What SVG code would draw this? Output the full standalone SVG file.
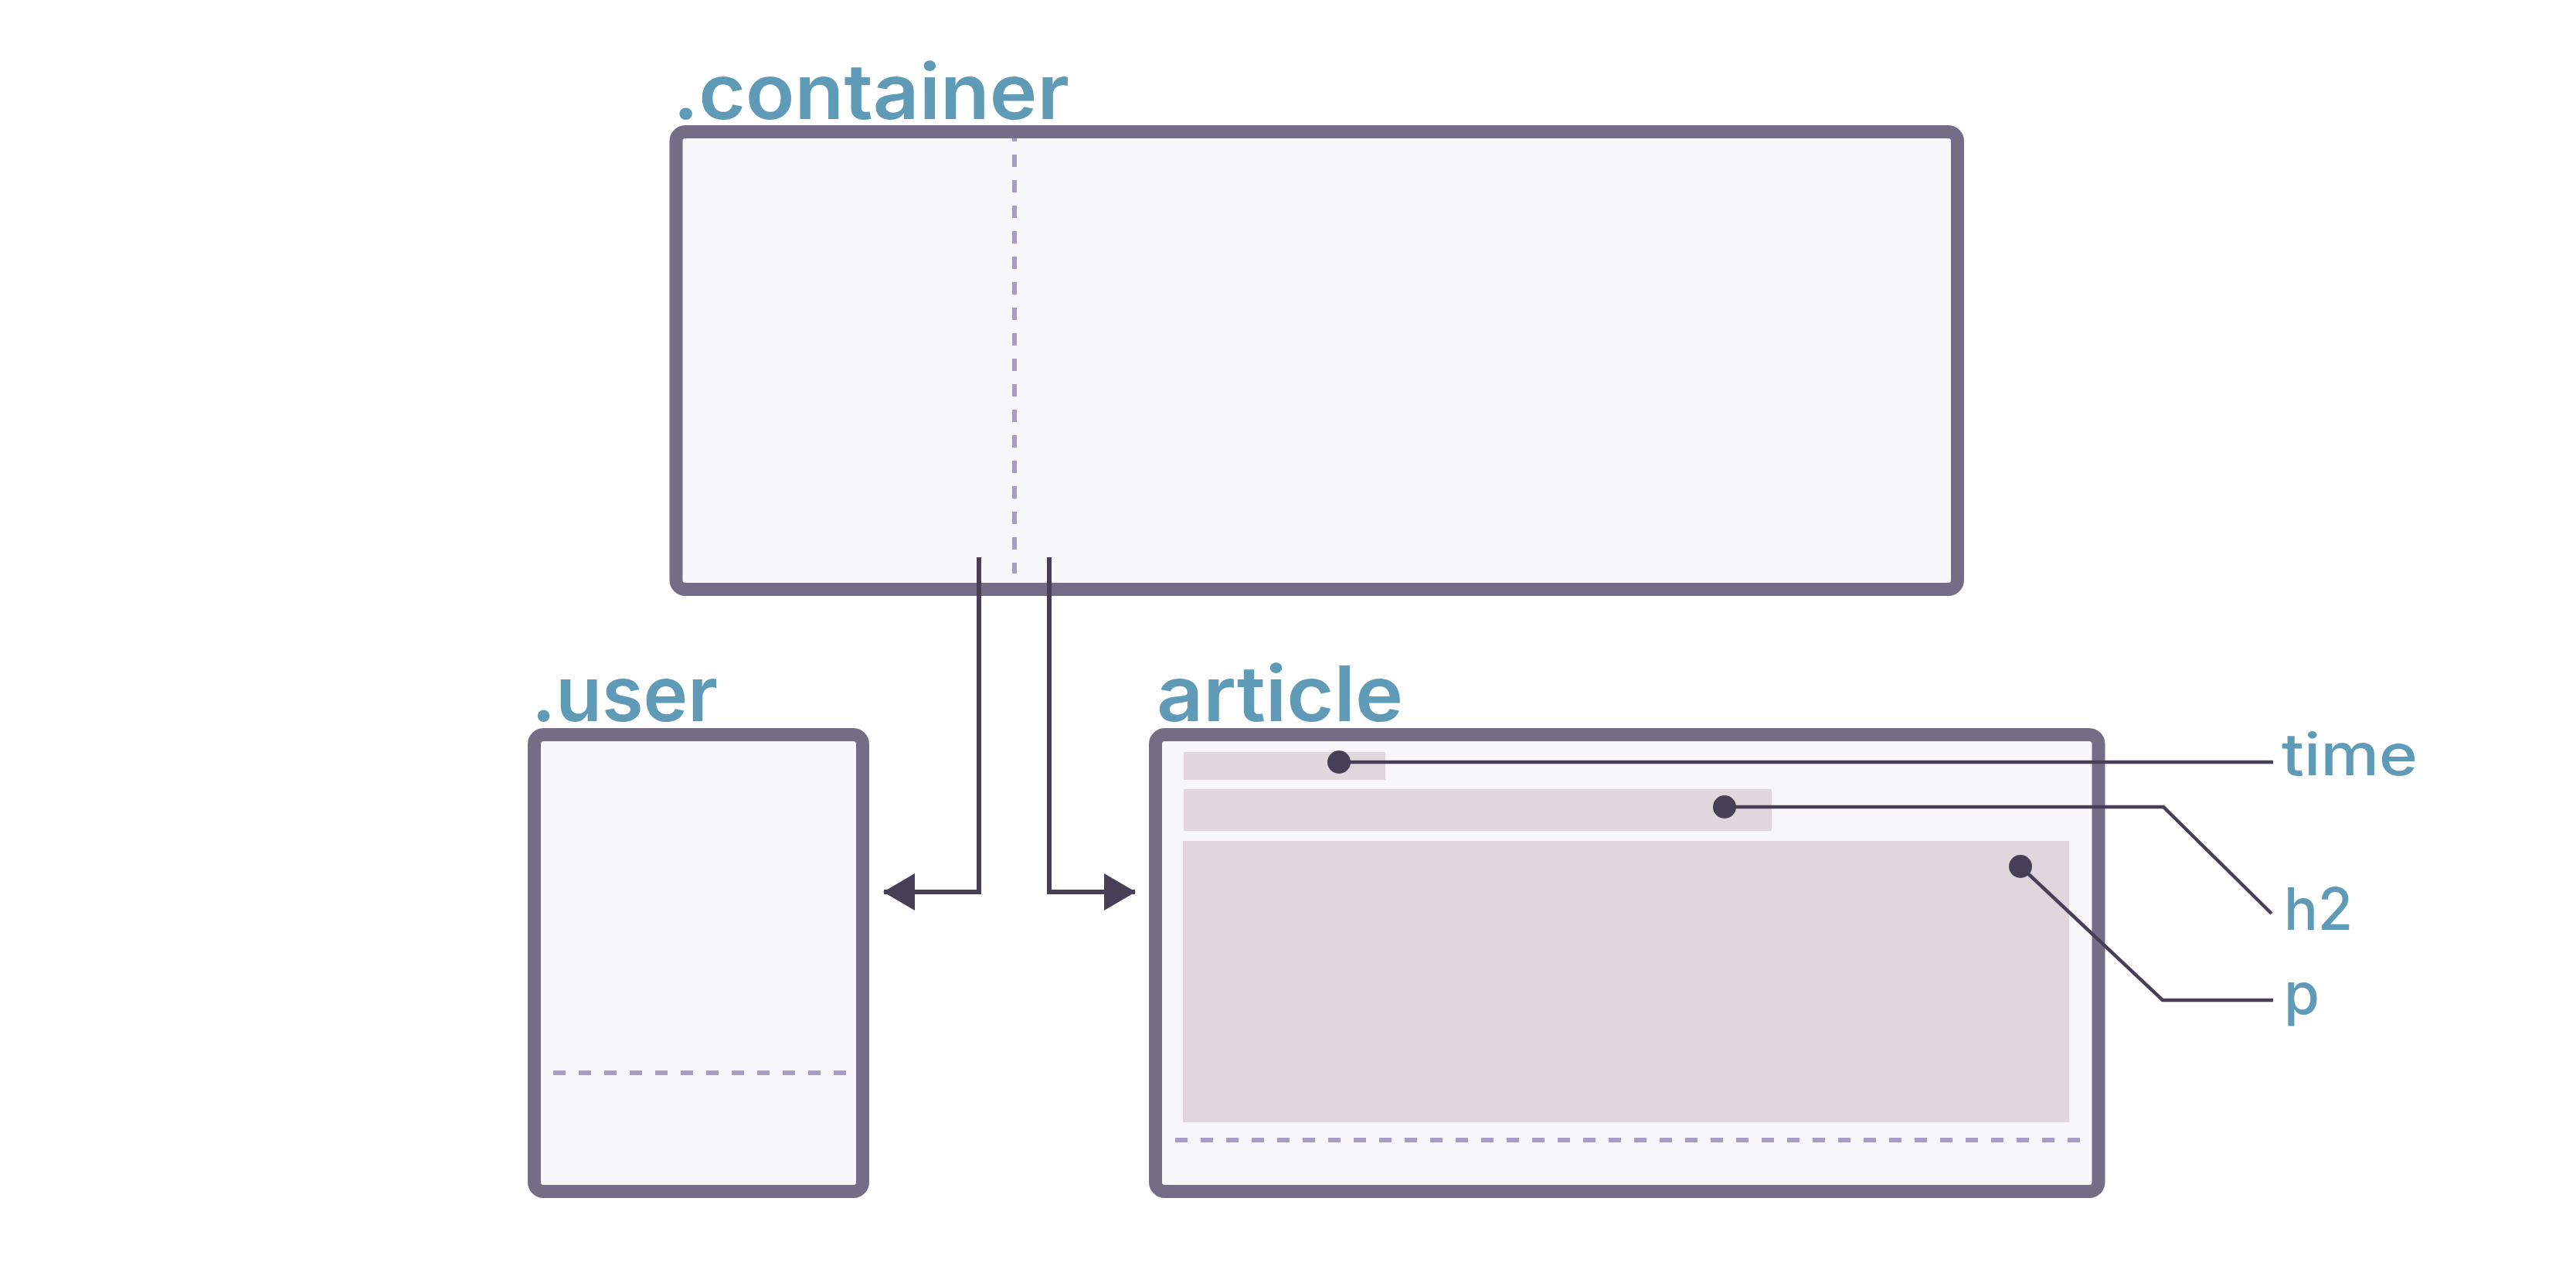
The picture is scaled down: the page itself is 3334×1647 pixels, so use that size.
<svg xmlns="http://www.w3.org/2000/svg" width="3334" height="1647" viewBox="0 0 3334 1647">
<defs>
<style>
.box{fill:#f7f7f9;stroke:#736e85;stroke-width:17}
.dash{stroke:#a89bc4;stroke-width:6;stroke-dasharray:16 17;fill:none}
.blk{fill:#e0d7dd}
.title{font-family:Inter,"Open Sans",sans-serif;font-weight:600;font-size:99px;fill:#5f9bb7}
.lbl{font-family:Inter,"Open Sans",sans-serif;font-weight:500;font-size:75px;fill:#5f9bb7}
.conn{stroke:#463f57;stroke-width:6;fill:none}
.call{stroke:#463f57;stroke-width:4.5;fill:none}
.dot{fill:#463f57}
</style>
<marker id="arr" markerUnits="userSpaceOnUse" markerWidth="42" markerHeight="48" refX="40" refY="24" orient="auto">
<path d="M0,0 L41,24 L0,48 Z" fill="#463f57"/>
</marker>
</defs>
<rect width="3334" height="1647" fill="#ffffff"/>
<g id="container">
<rect class="box" x="875" y="170.5" width="1658.5" height="592" rx="12"/>
<line class="dash" x1="1313" y1="179" x2="1313" y2="742" stroke-dashoffset="12"/>
<text class="title" x="871" y="154" textLength="513" lengthAdjust="spacingAndGlyphs">.container</text>
</g>
<g id="user">
<rect class="box" x="691.5" y="950.5" width="425" height="591" rx="12"/>
<line class="dash" x1="716" y1="1388" x2="1108" y2="1388"/>
<text class="title" x="688" y="933" textLength="241" lengthAdjust="spacingAndGlyphs">.user</text>
</g>
<g id="article">
<rect class="box" x="1495.5" y="950.5" width="1220.5" height="591" rx="12"/>
<rect class="blk" x="1532" y="973" width="261" height="36"/>
<rect class="blk" x="1532" y="1021" width="761" height="54"/>
<rect class="blk" x="1531" y="1088" width="1147" height="364"/>
<line class="dash" x1="1521" y1="1475" x2="2694" y2="1475"/>
<text class="title" x="1497" y="933" textLength="319" lengthAdjust="spacingAndGlyphs">article</text>
</g>
<g id="connectors">
<path class="conn" d="M1267,721 V1154 H1144" marker-end="url(#arr)"/>
<path class="conn" d="M1358,721 V1154 H1469" marker-end="url(#arr)"/>
<path class="call" d="M1733,986 H2942"/>
<path class="call" d="M2232,1044 H2800 L2940,1182"/>
<path class="call" d="M2615,1121 L2799,1294 H2942"/>
<circle class="dot" cx="1733" cy="986" r="15"/>
<circle class="dot" cx="2232" cy="1044" r="15"/>
<circle class="dot" cx="2615" cy="1121" r="15"/>
</g>
<g id="labels">
<text class="lbl" x="2953" y="1003" textLength="176" lengthAdjust="spacingAndGlyphs">time</text>
<text class="lbl" x="2956" y="1203" textLength="89" lengthAdjust="spacingAndGlyphs">h2</text>
<text class="lbl" x="2956" y="1312" textLength="46" lengthAdjust="spacingAndGlyphs">p</text>
</g>
</svg>
